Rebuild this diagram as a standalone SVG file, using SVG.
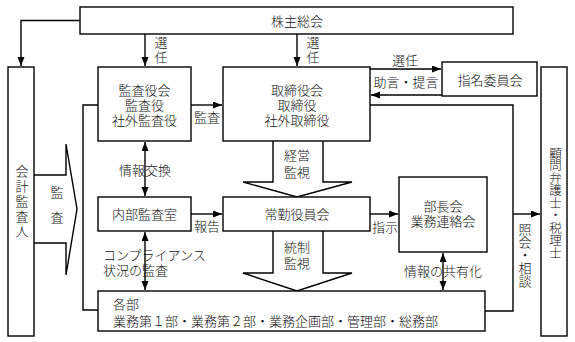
<svg xmlns="http://www.w3.org/2000/svg" width="575" height="342" viewBox="0 0 575 342">
<style>
.box{fill:#fff;stroke:#000;stroke-width:1.4}
.ln{fill:none;stroke:#000;stroke-width:1.4}
.blk{fill:#fff;stroke:#000;stroke-width:1.4;stroke-linejoin:miter}
text{font-family:"Liberation Sans","Noto Sans CJK JP","Noto Sans CJK SC",sans-serif;font-size:13px;font-weight:300;fill:#111;text-anchor:middle;dominant-baseline:central}
.v{writing-mode:vertical-rl}
.s{text-anchor:start}
</style>
<defs>
<marker id="ah" markerUnits="userSpaceOnUse" markerWidth="10" markerHeight="8" refX="9" refY="3.5" orient="auto-start-reverse">
<path d="M0,0 L9,3.5 L0,7 z" fill="#000"/>
</marker>
</defs>
<rect width="575" height="342" fill="#fff"/>
<g id="connectors">
<path class="ln" d="M80,20.5 H21 V66" marker-end="url(#ah)"/>
<path class="ln" d="M145,34 V66" marker-end="url(#ah)"/>
<path class="ln" d="M297,34 V66" marker-end="url(#ah)"/>
<path class="ln" d="M191,105 H222" marker-end="url(#ah)"/>
<path class="ln" d="M370,69 H441" marker-end="url(#ah)"/>
<path class="ln" d="M442,95 H371" marker-end="url(#ah)"/>
<path class="ln" d="M370,105 H513 V311 H485"/>
<path class="ln" d="M513,214 H540" marker-end="url(#ah)"/>
<path class="ln" d="M145,142 V196" marker-start="url(#ah)" marker-end="url(#ah)"/>
<path class="ln" d="M191,214 H222" marker-end="url(#ah)"/>
<path class="ln" d="M370,214 H398" marker-end="url(#ah)"/>
<path class="ln" d="M145,232 V290" marker-start="url(#ah)" marker-end="url(#ah)"/>
<path class="ln" d="M443,253 V290" marker-start="url(#ah)" marker-end="url(#ah)"/>
<path class="ln" d="M98,105 H83 V310 H98"/>
<path class="blk" d="M273,141 V182 H243 L297,197 L352,182 H323 V141"/>
<path class="blk" d="M273,231 V273 H243 L297,291 L352,273 H323 V231"/>
<path class="blk" d="M34,175 H66 V144 L77,209 L66,275 V243 H34"/>
<text x="160" y="51" class="v" style="letter-spacing:2px">選任</text>
<text x="312" y="51" class="v" style="letter-spacing:2px">選任</text>
<text x="207" y="117">監査</text>
<text x="405" y="60">選任</text>
<text x="406" y="82">助言・提言</text>
<text x="145" y="170">情報交換</text>
<text x="207" y="226">報告</text>
<text x="385" y="227">指示</text>
<text x="297" y="155">経営<tspan x="297" dy="17">監視</tspan></text>
<text x="297" y="247">統制<tspan x="297" dy="16">監視</tspan></text>
<text x="103" y="255" class="s">コンプライアンス<tspan x="103" dy="15">状況の監査</tspan></text>
<text x="443" y="271">情報の共有化</text>
<text x="524" y="255" class="v">照会・相談</text>
<text x="56" y="211" class="v" style="letter-spacing:12px">監査</text>
</g>
<g id="kabunushi">
<rect class="box" x="80" y="7" width="433" height="27"/>
<text x="297" y="21">株主総会</text>
</g>
<g id="kaikei">
<rect class="box" x="8" y="67" width="26" height="269"/>
<text x="21" y="202" class="v" style="letter-spacing:2px">会計監査人</text>
</g>
<g id="kansayakukai">
<rect class="box" x="98" y="67" width="93" height="74"/>
<text x="144.5" y="90">監査役会<tspan x="144.5" dy="15">監査役</tspan><tspan x="144.5" dy="14.5">社外監査役</tspan></text>
</g>
<g id="torishimariyakukai">
<rect class="box" x="223" y="67" width="147" height="74"/>
<text x="297" y="90">取締役会<tspan x="297" dy="15">取締役</tspan><tspan x="297" dy="14.5">社外取締役</tspan></text>
</g>
<g id="shimei">
<rect class="box" x="442" y="62" width="95" height="34"/>
<text x="490" y="80">指名委員会</text>
</g>
<g id="komon">
<rect class="box" x="541" y="67" width="26" height="269"/>
<text x="554" y="203" class="v" style="font-size:12.5px">顧問弁護士・税理士</text>
</g>
<g id="naibu">
<rect class="box" x="98" y="197" width="93" height="34"/>
<text x="144.5" y="214">内部監査室</text>
</g>
<g id="joukin">
<rect class="box" x="223" y="197" width="147" height="34"/>
<text x="297" y="214">常勤役員会</text>
</g>
<g id="buchoukai">
<rect class="box" x="399" y="177" width="88" height="75"/>
<text x="443" y="206">部長会<tspan x="443" dy="15">業務連絡会</tspan></text>
</g>
<g id="kakubu">
<rect class="box" x="98" y="291" width="387" height="40"/>
<text x="113" y="304" class="s">各部<tspan x="113" dy="17">業務第１部・業務第２部・業務企画部・管理部・総務部</tspan></text>
</g>
</svg>
